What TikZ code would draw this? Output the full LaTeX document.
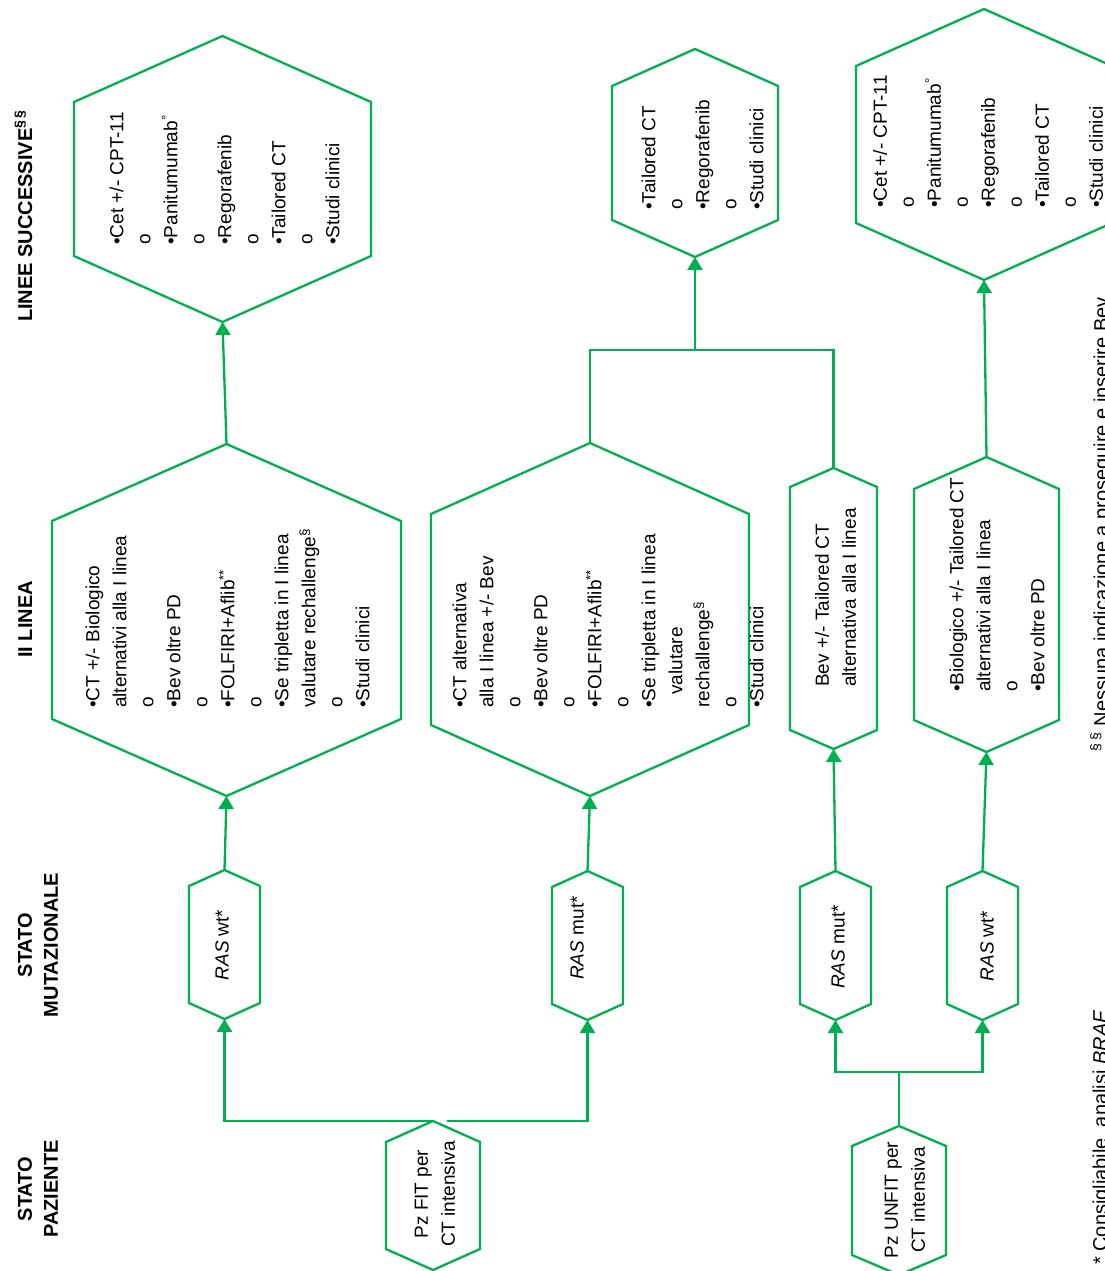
\documentclass[tikz,border=0pt]{standalone}
\usepackage{fontspec}
\setmainfont{Liberation Sans}
\usetikzlibrary{arrows.meta}
\definecolor{flowgreen}{RGB}{0,176,80}

% hexagonal outline around a named box node; #2 = height of the pointed ends
\newcommand\hexframe[2]{%
  \draw[flow] (#1.north) -- ([yshift=-#2pt]#1.north west)
    -- ([yshift=#2pt]#1.south west) -- (#1.south)
    -- ([yshift=#2pt]#1.south east) -- ([yshift=-#2pt]#1.north east) -- cycle;}

\tikzset{
  flow/.style={draw=flowgreen, line width=2.3pt, line join=miter},
  link/.style={flow, -{Triangle[width=15pt,length=13pt]}},
  hexbox/.style 2 args={rectangle, draw=none, inner sep=0pt, outer sep=0pt,
    minimum width=#1pt, minimum height=#2pt},
  lst/.style={rotate=90, anchor=west, inner sep=0pt, align=left,
    font=\fontsize{19}{27}\selectfont},
  ctrtext/.style={rotate=90, inner sep=0pt, align=center,
    font=\fontsize{19}{27}\selectfont},
  colhead/.style={rotate=90, inner sep=0pt, align=center,
    font=\fontsize{20}{26}\selectfont\bfseries},
  fnote/.style={rotate=90, anchor=base west, inner sep=0pt,
    font=\fontsize{20}{24}\selectfont},
}

\begin{document}
\begin{tikzpicture}[x=1pt,y=-1pt]
\fill[white] (0,0) rectangle (1104,1271);
\useasboundingbox (0,0) rectangle (1104,1271);

% column headings
\node[colhead, anchor=base west] (hls) at (32,322) {LINEE SUCCESSIVE\textsuperscript{§\,§}};
\node[colhead, anchor=base west] (hii) at (32,658) {II LINEA};
\node[colhead] (hmut) at (38,945) {STATO\\MUTAZIONALE};
\node[colhead] (hpaz) at (38,1189) {STATO\\PAZIENTE};

% patient status
\node[hexbox={94}{149}] (fit) at (433,1195.5) {};
\node[hexbox={94}{149}] (unfit) at (899,1200.5) {};
\hexframe{fit}{21}
\hexframe{unfit}{20}
\node[ctrtext] (fitt) at (435,1194) {Pz FIT per\\CT intensiva};
\node[ctrtext] (unfitt) at (905,1200) {Pz UNFIT per\\CT intensiva};

% mutational status
\node[hexbox={71}{149}] (raswt1) at (224.5,944.5) {};
\node[hexbox={71}{149}] (rasmut1) at (587.5,945.5) {};
\node[hexbox={71}{149}] (rasmut2) at (835.5,945.5) {};
\node[hexbox={71}{149}] (raswt2) at (982.5,945.5) {};
\hexframe{raswt1}{16}
\hexframe{rasmut1}{16}
\hexframe{rasmut2}{16}
\hexframe{raswt2}{16}
\node[ctrtext] (raswt1t) at (222,945) {\textit{RAS} wt*};
\node[ctrtext] (rasmut1t) at (577,938) {\textit{RAS} mut*};
\node[ctrtext] (rasmut2t) at (838,947) {\textit{RAS} mut*};
\node[ctrtext] (raswt2t) at (987,946) {\textit{RAS} wt*};

% second line
\node[hexbox={349}{352}] (ii1) at (226.5,620) {};
\node[hexbox={318}{353}] (ii2) at (590,619.5) {};
\node[hexbox={87}{281}] (ii3) at (833.5,608.5) {};
\node[hexbox={145}{295}] (ii4) at (986.5,604.5) {};
\hexframe{ii1}{77}
\hexframe{ii2}{71}
\hexframe{ii3}{19}
\hexframe{ii4}{32}
\node[lst] (ii1t) at (227.5,708) {•CT +/- Biologico\\alternativi\ alla I linea\\o\\•Bev oltre PD\\o\\
  •FOLFIRI+Aflib\textsuperscript{**}\\o\\•Se tripletta in I linea\\valutare rechallenge\textsuperscript{§}\\o\\•Studi clinici};
\node[lst] (ii2t) at (608,708) {•CT alternativa\\alla I linea +/- Bev\\o\\•Bev oltre PD\\o\\
  •FOLFIRI+Aflib\textsuperscript{**}\\o\\•Se tripletta in I linea\\\hspace*{13pt}valutare\\rechallenge\textsuperscript{§}\\o\\•Studi clinici};
\node[lst] (ii3t) at (835.5,687) {Bev +/- Tailored CT\\alternativa alla I linea};
\node[lst] (ii4t) at (997,692) {•Biologico +/- Tailored CT\\alternativi alla I linea\\o\\•Bev oltre PD};

% further lines
\node[hexbox={297}{286}] (ls1) at (222.5,179) {};
\node[hexbox={166}{208}] (ls2) at (695,153) {};
\node[hexbox={256}{271}] (ls3) at (984,144.5) {};
\hexframe{ls1}{66}
\hexframe{ls2}{37}
\hexframe{ls3}{57}
\node[lst] (ls1t) at (224.5,245) {•Cet +/- CPT-11\\o\\•Panitumumab\textsuperscript{°}\\o\\•Regorafenib\\o\\•Tailored CT\\o\\•Studi clinici};
\node[lst] (ls2t) at (702.5,210) {•Tailored CT\\o\\•Regorafenib\\o\\•Studi clinici};
\node[lst] (ls3t) at (988,208) {•Cet +/- CPT-11\\o\\•Panitumumab\textsuperscript{°}\\o\\•Regorafenib\\o\\•Tailored CT\\o\\•Studi clinici};

% connectors
\coordinate (jfit) at ([xshift=14pt]fit.north);
\draw[link] (fit.north) -| (raswt1.south);
\draw[link] (jfit) -| (rasmut1.south);
\coordinate (j3) at (899,1072);
\draw[flow] (unfit.north) -- (j3);
\draw[link] (j3) -| (rasmut2.south);
\draw[link] (j3) -| (raswt2.south);

\draw[link] (raswt1.north) -- (ii1.south);
\draw[link] (rasmut1.north) -- (ii2.south);
\draw[link] (rasmut2.north) -- (ii3.south);
\draw[link] (raswt2.north) -- (ii4.south);

\draw[link] (ii1.north) -- (ls1.south);
\coordinate (j2) at (695,350);
\draw[flow] (ii2.north) |- (j2);
\draw[flow] (ii3.north) |- (j2);
\draw[link] (j2) -- (ls2.south);
\draw[link] (ii4.north) -- (ls3.south);

% footnotes
\node[fnote] (n1) at (1107,1265) {* Consigliabile\ \ analisi \textit{BRAF}};
\node[fnote] (n2) at (1108,752) {\textsuperscript{§ §} Nessuna indicazione a proseguire e inserire Bev};
\end{tikzpicture}
\end{document}
